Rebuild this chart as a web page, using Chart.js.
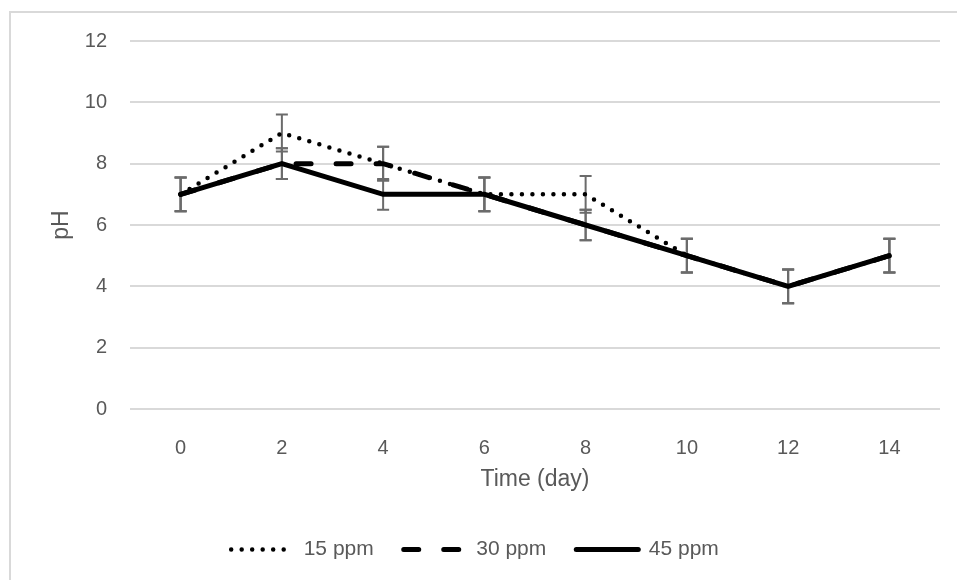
<!DOCTYPE html>
<html>
<head>
<meta charset="utf-8">
<script src="https://cdn.jsdelivr.net/npm/chart.js@4"></script>
<style>
  body { margin: 0; background: #fff; }
  #wrap { position: relative; width: 957px; height: 580px; overflow: hidden; }
  #frame { position: absolute; left: 9px; top: 11px; width: 1200px; height: 1200px; border: 2px solid #d9d9d9; }
  canvas { position: absolute; left: 0; top: 0; }
</style>
</head>
<body>
<div id="wrap">
  <div id="frame"></div>
  <canvas id="grafico" width="957" height="580"></canvas>
</div>
<script>
// datos
const days = ["0", "2", "4", "6", "8", "10", "12", "14"];
const ph15 = [7, 9, 8, 7, 7, 5, 4, 5];
const ph30 = [7, 8, 8, 7, 6, 5, 4, 5];
const ph45 = [7, 8, 7, 7, 6, 5, 4, 5];
const err15 = [0.55, 0.6, 0.55, 0.55, 0.6, 0.55, 0.55, 0.55];
const err30 = [0.55, 0.5, 0.55, 0.55, 0.5, 0.55, 0.55, 0.55];
const err45 = [0.55, 0.5, 0.5, 0.55, 0.5, 0.55, 0.55, 0.55];
const yTicks = [0, 2, 4, 6, 8, 10, 12];

const gris = "#595959";

// barras de error (debajo de las lineas)
const errorBars = {
  id: "errorBars",
  beforeDatasetsDraw(chart) {
    const { ctx, scales: { x, y } } = chart;
    ctx.save();
    ctx.strokeStyle = "#6b6b6b";
    ctx.lineWidth = 2;
    chart.data.datasets.forEach((ds) => {
      ds.data.forEach((v, j) => {
        const px = x.getPixelForValue(j);
        const top = y.getPixelForValue(v + ds.errors[j]);
        const bot = y.getPixelForValue(v - ds.errors[j]);
        ctx.beginPath();
        ctx.moveTo(px, top);
        ctx.lineTo(px, bot);
        ctx.moveTo(px - 6, top);
        ctx.lineTo(px + 6, top);
        ctx.moveTo(px - 6, bot);
        ctx.lineTo(px + 6, bot);
        ctx.stroke();
      });
    });
    ctx.restore();
  },
};

Chart.defaults.font.family = "'Liberation Sans', Arial, sans-serif";
Chart.defaults.color = gris;

new Chart(document.getElementById("grafico"), {
  type: "line",
  data: {
    labels: days,
    datasets: [
      {
        label: "15 ppm",
        data: ph15,
        errors: err15,
        borderColor: "#000",
        borderWidth: 4.5,
        borderDash: [0, 10.5],
        borderCapStyle: "round",
        pointRadius: 0,
      },
      {
        label: "30 ppm",
        data: ph30,
        errors: err30,
        borderColor: "#000",
        borderWidth: 5,
        borderDash: [15, 25],
        borderCapStyle: "round",
        pointRadius: 0,
      },
      {
        label: "45 ppm",
        data: ph45,
        errors: err45,
        borderColor: "#000",
        borderWidth: 5,
        borderCapStyle: "round",
        pointRadius: 0,
      },
    ],
  },
  options: {
    responsive: false,
    animation: false,
    layout: { padding: { left: 10, right: 17, top: 41, bottom: 10 } },
    scales: {
      x: {
        offset: true,
        grid: { display: false },
        border: { display: false },
        ticks: { font: { size: 20 }, padding: 19 },
        title: {
          display: true,
          text: "Time (day)",
          font: { size: 23 },
          padding: { top: 0, bottom: 16 },
        },
        afterFit: (s) => { s.height = 100; },
      },
      y: {
        min: 0,
        max: 12,
        afterBuildTicks: (s) => { s.ticks = yTicks.map((v) => ({ value: v })); },
        grid: { color: "#d9d9d9", lineWidth: 2, drawTicks: false },
        border: { display: false },
        ticks: { font: { size: 20 }, padding: 23 },
        title: {
          display: true,
          text: "pH",
          font: { size: 23 },
          padding: { top: 38, bottom: 0 },
        },
        afterFit: (s) => { s.width = 120; },
      },
    },
    plugins: {
      tooltip: { enabled: false },
      legend: {
        position: "bottom",
        labels: {
          usePointStyle: true,
          pointStyleWidth: 62,
          padding: 30,
          font: { size: 21 },
          color: gris,
          generateLabels: (chart) =>
            chart.data.datasets.map((ds, i) => ({
              text: ds.label,
              datasetIndex: i,
              fillStyle: "rgba(0,0,0,0)",
              strokeStyle: "#000",
              lineWidth: ds.borderWidth,
              lineDash: ds.borderDash || [],
              lineCap: "round",
              pointStyle: "line",
              fontColor: gris,
              hidden: false,
            })),
        },
      },
    },
  },
  plugins: [errorBars],
});
</script>
</body>
</html>
